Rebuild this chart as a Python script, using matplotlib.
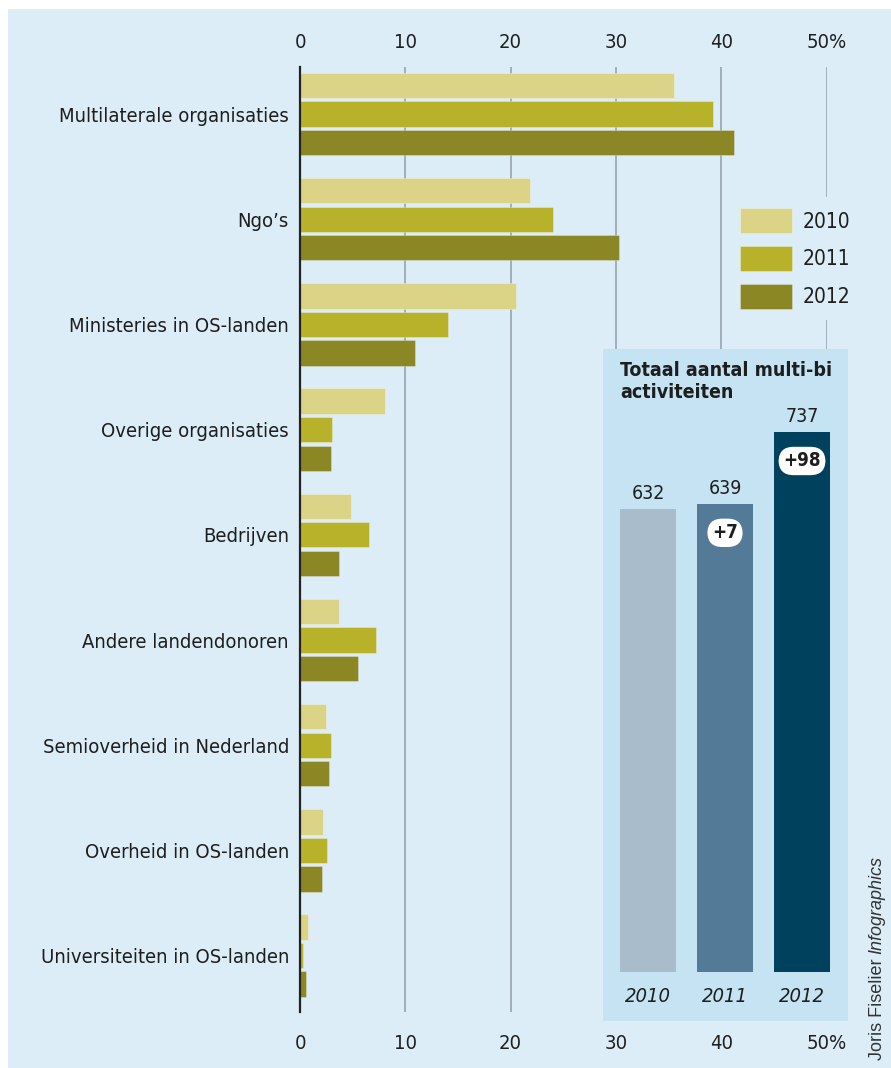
import matplotlib
matplotlib.use("Agg")
import matplotlib.pyplot as plt
from matplotlib.patches import Rectangle
import numpy as np

categories = ["Multilaterale organisaties", "Ngo\u2019s", "Ministeries in OS-landen",
              "Overige organisaties", "Bedrijven", "Andere landendonoren",
              "Semioverheid in Nederland", "Overheid in OS-landen",
              "Universiteiten in OS-landen"]
years = ["2010", "2011", "2012"]
v2010 = [35.5, 21.8, 20.5, 8.1, 4.8, 3.7, 2.5, 2.2, 0.8]
v2011 = [39.2, 24.0, 14.1, 3.0, 6.6, 7.2, 2.9, 2.6, 0.3]
v2012 = [41.2, 30.3, 10.9, 2.9, 3.7, 5.5, 2.8, 2.1, 0.6]
xticks = [0, 10, 20, 30, 40, 50]
xticklabels = ["0", "10", "20", "30", "40", "50%"]

totals = [632, 639, 737]
changes = ["", "+7", "+98"]

BG = "#dcedf8"
PANEL = "#c5e3f3"
bar_colors = ["#dbd486", "#b8b22a", "#8b8725"]
total_colors = ["#a9bccb", "#537a96", "#00425e"]
TXT = "#1e1e1e"
plt.rcParams["font.family"] = ["DejaVu Sans"]
plt.rcParams["font.stretch"] = "condensed"

W, H = 891, 1068
fig = plt.figure(figsize=(W / 100, H / 100), dpi=100)
fig.patch.set_facecolor("white")
fig.patches.append(Rectangle((8 / W, 0), 1, 1 - 9 / H, transform=fig.transFigure,
                             facecolor=BG, edgecolor="none", zorder=-10))

def px_axes(x0, y0, x1, y1, **kw):
    return fig.add_axes([x0 / W, 1 - y1 / H, (x1 - x0) / W, (y1 - y0) / H], **kw)

ax = px_axes(300, 67, 826.5, 1012)
ax.set_facecolor("none")
ypos = np.arange(len(categories))
off = 0.271
bh = 0.24
for k, vals in enumerate([v2010, v2011, v2012]):
    ax.barh(ypos + (k - 1) * off, vals, height=bh, color=bar_colors[k],
            edgecolor="#ffffff55", linewidth=0.6, label=years[k], zorder=3)
ax.set_xlim(0, 50)
ax.set_ylim(8.536, -0.447)
ax.set_xticks(xticks)
ax.set_xticklabels(xticklabels)
for x in xticks[1:]:
    ax.axvline(x, color="#98a4ad", lw=1.2, zorder=1)
ax.tick_params(axis="x", length=0, labeltop=False, labelbottom=True, pad=15.5,
               labelsize=14.5, labelcolor=TXT)
sec = ax.secondary_xaxis("top")
sec.set_xticks(xticks)
sec.set_xticklabels(xticklabels)
sec.tick_params(axis="x", length=0, pad=11, labelsize=14.5, labelcolor=TXT)
sec.spines["top"].set_visible(False)
ax.set_yticks(ypos)
ax.set_yticklabels(categories)
ax.tick_params(axis="y", length=0, pad=8, labelsize=14.5, labelcolor=TXT)
for s in ["top", "right", "bottom"]:
    ax.spines[s].set_visible(False)
ax.spines["left"].set_color("#222222")
ax.spines["left"].set_linewidth(1.6)
ax.spines["left"].set_zorder(4)

leg = ax.legend(loc="upper left", bbox_to_anchor=(729 / W, 1 - 197 / H),
                bbox_transform=fig.transFigure, frameon=True, facecolor=BG,
                edgecolor="none", framealpha=1, fontsize=15, handlelength=2.45,
                handleheight=1.43, labelspacing=0.64, handletextpad=0.55,
                borderpad=0.55, borderaxespad=0, fancybox=False)
for t in leg.get_texts():
    t.set_color(TXT)
leg.set_zorder(5)

# inset panel
ins = px_axes(603, 349, 848, 1021)
ins.set_facecolor(PANEL)
ins.set_zorder(6)
xi = np.arange(len(totals))
ins.bar(xi, totals, width=0.727, color=total_colors, zorder=3)
ins.set_xlim(-0.584, 2.597)
ins.set_ylim(-66.8, 850)
ins.axis("off")
ins.add_patch(Rectangle((0, 0), 1, 1, transform=ins.transAxes, facecolor=PANEL,
                        edgecolor="none", zorder=0))
ins.text(0.07, 0.982, "Totaal aantal multi-bi\nactiviteiten", transform=ins.transAxes,
         ha="left", va="top", fontsize=14, fontweight="bold", color=TXT,
         linespacing=1.2)
for i, (v, c) in enumerate(zip(totals, changes)):
    ins.annotate(str(v), (i, v), xytext=(0, 4), textcoords="offset points",
                 ha="center", va="bottom", fontsize=14, color=TXT)
    if c:
        ins.annotate(c, (i, v), xytext=(0, -21), textcoords="offset points",
                     ha="center", va="center", fontsize=13.5, fontweight="bold",
                     color=TXT, bbox=dict(boxstyle="round,pad=0.25,rounding_size=0.8",
                                          facecolor="white", edgecolor="none"))
    ins.text(i, -34, years[i], ha="center", va="center", fontsize=14.5,
             style="italic", color=TXT)

# credit
cfont = dict(fontsize=13, color="#333333", family=["Liberation Sans", "DejaVu Sans"],
             stretch="normal")
t1 = fig.text(877 / W, 1 - 1060 / H, "Joris Fiselier ", rotation=90, ha="center",
              va="bottom", **cfont)
fig.canvas.draw()
bb = t1.get_window_extent()
fig.text(877 / W, bb.y1 / H, "Infographics", rotation=90, ha="center", va="bottom",
         style="italic", **cfont)

fig.savefig("out.png", dpi=100, facecolor=fig.get_facecolor())
